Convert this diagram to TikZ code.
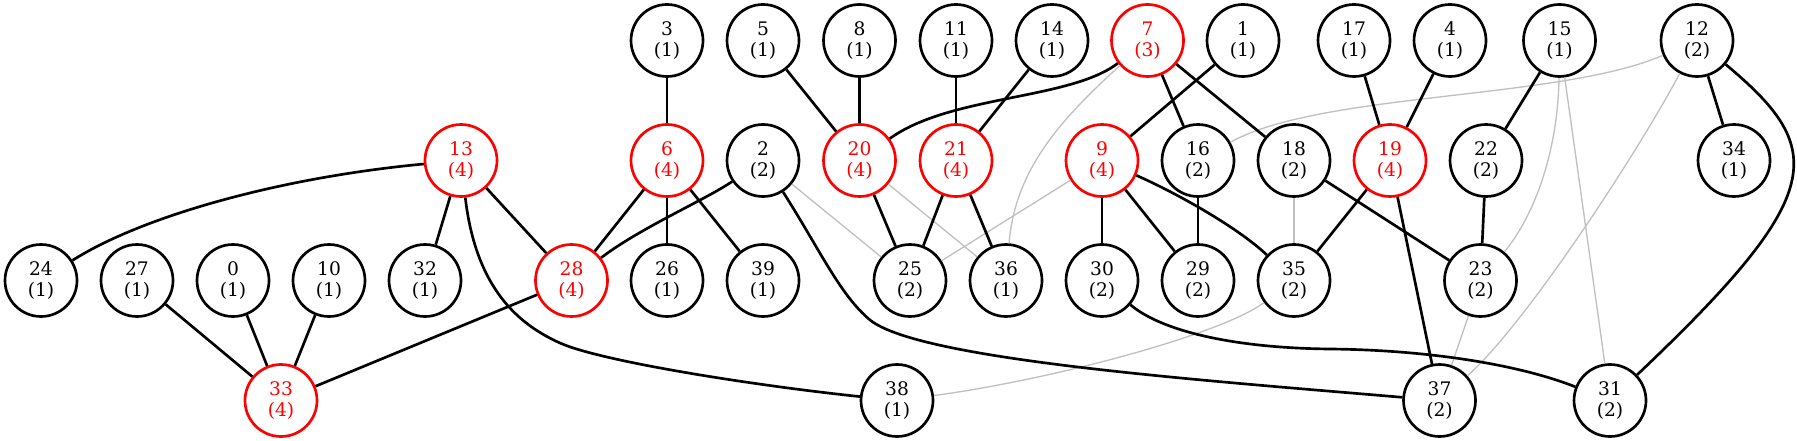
\documentclass[tikz,border=0pt]{standalone}
\usepackage{fontspec}
\setmainfont{DejaVu Serif}
\definecolor{edgegray}{RGB}{192,192,192}
\definecolor{hired}{RGB}{255,0,0}
\begin{document}
\begin{tikzpicture}[x=0.75pt,y=-0.75pt,
  vtx/.style={circle,draw=black,line width=2pt,minimum size=54pt,inner sep=0pt,align=center,
    font=\fontsize{14}{15.8}\selectfont},
  hot/.style={vtx,draw=hired,text=hired},
  strong/.style={line width=2pt,black},
  weak/.style={line width=1pt,edgegray}]
\useasboundingbox (0,0) rectangle (1797,441);
% row 1
\node[vtx] (n3)  at (667,40.5)   {3\\(1)};
\node[vtx] (n5)  at (763,40.5)   {5\\(1)};
\node[vtx] (n8)  at (859.5,40.5) {8\\(1)};
\node[vtx] (n11) at (956,40.5)   {11\\(1)};
\node[vtx] (n14) at (1052,40.5)  {14\\(1)};
\node[hot] (n7)  at (1147.5,40.5){7\\(3)};
\node[vtx] (n1)  at (1243,40.5)  {1\\(1)};
\node[vtx] (n17) at (1354,40.5)  {17\\(1)};
\node[vtx] (n4)  at (1450,40.5)  {4\\(1)};
\node[vtx] (n15) at (1559.5,40.5){15\\(1)};
\node[vtx] (n12) at (1697,40.5)  {12\\(2)};
% row 2
\node[hot] (n13) at (461,160.5)  {13\\(4)};
\node[hot] (n6)  at (667,160.5)  {6\\(4)};
\node[vtx] (n2)  at (763,160.5)  {2\\(2)};
\node[hot] (n20) at (859.5,160.5){20\\(4)};
\node[hot] (n21) at (956,160.5)  {21\\(4)};
\node[hot] (n9)  at (1102,160.5) {9\\(4)};
\node[vtx] (n16) at (1198,160.5) {16\\(2)};
\node[vtx] (n18) at (1294,160.5) {18\\(2)};
\node[hot] (n19) at (1390,160.5) {19\\(4)};
\node[vtx] (n22) at (1486,160.5) {22\\(2)};
\node[vtx] (n34) at (1734,160.5) {34\\(1)};
% row 3
\node[vtx] (n24) at (41,280.5)   {24\\(1)};
\node[vtx] (n27) at (137,280.5)  {27\\(1)};
\node[vtx] (n0)  at (233,280.5)  {0\\(1)};
\node[vtx] (n10) at (329,280.5)  {10\\(1)};
\node[vtx] (n32) at (425,280.5)  {32\\(1)};
\node[hot] (n28) at (571.5,280.5){28\\(4)};
\node[vtx] (n26) at (667,280.5)  {26\\(1)};
\node[vtx] (n39) at (763,280.5)  {39\\(1)};
\node[vtx] (n25) at (910,280.5)  {25\\(2)};
\node[vtx] (n36) at (1006,280.5) {36\\(1)};
\node[vtx] (n30) at (1102,280.5) {30\\(2)};
\node[vtx] (n29) at (1198,280.5) {29\\(2)};
\node[vtx] (n35) at (1294,280.5) {35\\(2)};
\node[vtx] (n23) at (1480.5,280.5){23\\(2)};
% row 4
\node[hot] (n33) at (281,400.5)  {33\\(4)};
\node[vtx] (n38) at (897,400.5)  {38\\(1)};
\node[vtx] (n37) at (1439.5,400.5){37\\(2)};
\node[vtx] (n31) at (1610,400.5) {31\\(2)};
% weak edges
\draw[weak] (n2) -- (n25);
\draw[weak] (n20) -- (n36);
\draw[weak] (n9) -- (n25);
\draw[weak] (n7) .. controls (1060,120) and (1015,170) .. (n36);
\draw[weak] (n12) .. controls (1560,100) and (1320,92) .. (n16);
\draw[weak] (n18) -- (n35);
\draw[weak] (n15) .. controls (1558,150) and (1535,215) .. (n23);
\draw[weak] (n15) -- (n31);
\draw[weak] (n12) .. controls (1641,147) and (1527,323) .. (n37);
\draw[weak] (n23) -- (n37);
\draw[weak] (n35) .. controls (1220,335) and (1050,380) .. (n38);
% strong edges
\draw[strong] (n13) .. controls (274.8,178) and (138.9,218) .. (n24);
\draw[strong] (n13) -- (n32);
\draw[strong] (n13) -- (n28);
\draw[strong] (n13) .. controls (476,290) and (520,325) .. (560,343) .. controls (600,361) and (750,385) .. (n38);
\draw[strong] (n27) -- (n33);
\draw[strong] (n0) -- (n33);
\draw[strong] (n10) -- (n33);
\draw[strong] (n28) -- (n33);
\draw[strong] (n3) -- (n6);
\draw[strong] (n6) -- (n28);
\draw[strong] (n6) -- (n26);
\draw[strong] (n6) -- (n39);
\draw[strong] (n2) .. controls (705,200) and (640,228) .. (n28);
\draw[strong] (n2) .. controls (820,250) and (840,295) .. (870,320) .. controls (920,360) and (1200,380) .. (n37);
\draw[strong] (n5) -- (n20);
\draw[strong] (n8) -- (n20);
\draw[strong] (n7) .. controls (1070,100) and (950,95) .. (n20);
\draw[strong] (n11) -- (n21);
\draw[strong] (n14) -- (n21);
\draw[strong] (n20) -- (n25);
\draw[strong] (n21) -- (n25);
\draw[strong] (n21) -- (n36);
\draw[strong] (n7) -- (n16);
\draw[strong] (n7) -- (n18);
\draw[strong] (n1) -- (n9);
\draw[strong] (n9) -- (n30);
\draw[strong] (n9) -- (n29);
\draw[strong] (n9) .. controls (1170,190) and (1235,225) .. (n35);
\draw[strong] (n16) -- (n29);
\draw[strong] (n17) -- (n19);
\draw[strong] (n4) -- (n19);
\draw[strong] (n19) -- (n35);
\draw[strong] (n19) -- (n37);
\draw[strong] (n18) -- (n23);
\draw[strong] (n15) -- (n22);
\draw[strong] (n22) -- (n23);
\draw[strong] (n12) -- (n34);
\draw[strong] (n12) .. controls (1827,149) and (1829,193) .. (n31);
\draw[strong] (n30) .. controls (1160,330) and (1230,348) .. (1330,349) .. controls (1430,350) and (1520,365) .. (n31);
\end{tikzpicture}
\end{document}
